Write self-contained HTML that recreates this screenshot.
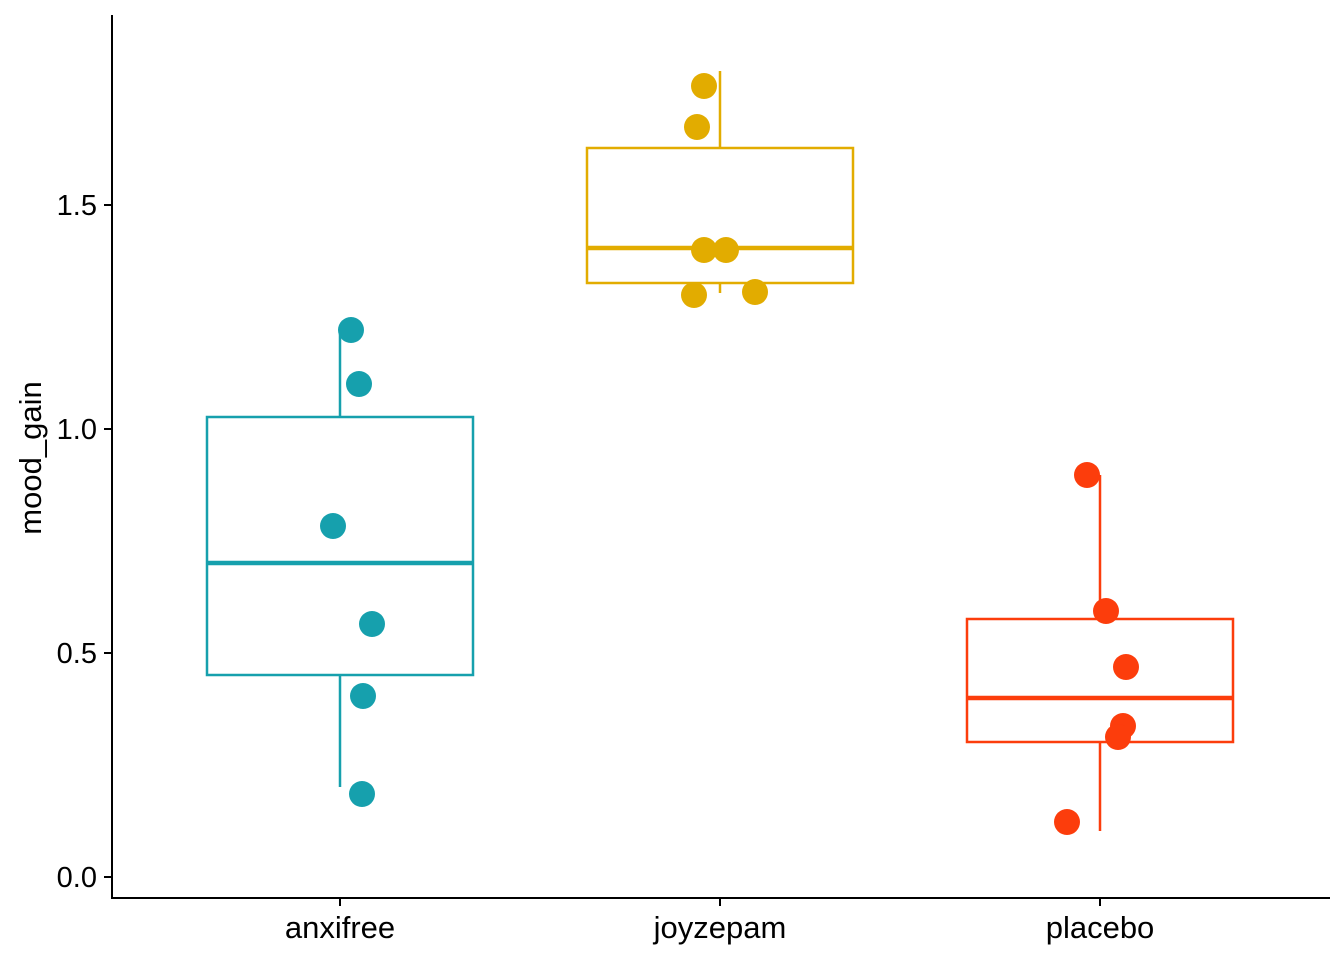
<!DOCTYPE html>
<html><head><meta charset="utf-8"><style>html,body{margin:0;padding:0;background:#fff}</style></head><body>
<svg width="1344" height="960" xmlns="http://www.w3.org/2000/svg" font-family="Liberation Sans, Arial, sans-serif">
<rect width="1344" height="960" fill="#fff"/>
<line x1="112" y1="15" x2="112" y2="899" stroke="#000" stroke-width="2"/>
<line x1="111" y1="898" x2="1330" y2="898" stroke="#000" stroke-width="2"/>
<g stroke="#000" stroke-width="2">
<line x1="104" y1="877" x2="112" y2="877"/><line x1="104" y1="653" x2="112" y2="653"/>
<line x1="104" y1="429" x2="112" y2="429"/><line x1="104" y1="205" x2="112" y2="205"/>
<line x1="340" y1="898" x2="340" y2="906"/><line x1="720" y1="898" x2="720" y2="906"/><line x1="1100" y1="898" x2="1100" y2="906"/>
</g>
<g font-size="29" fill="#000" text-anchor="end">
<text x="97" y="887">0.0</text><text x="97" y="663">0.5</text><text x="97" y="439">1.0</text><text x="97" y="215">1.5</text>
</g>
<g font-size="31" fill="#000" text-anchor="middle">
<text x="340" y="938">anxifree</text><text x="720" y="938">joyzepam</text><text x="1100" y="938">placebo</text>
</g>
<text transform="translate(41,458) rotate(-90)" font-size="31" text-anchor="middle">mood_gain</text>
<g stroke="#16A0AD" stroke-width="2.5" fill="none">
<line x1="340" y1="330" x2="340" y2="417"/><line x1="340" y1="675" x2="340" y2="787"/>
<rect x="207" y="417" width="266" height="258"/>
<line x1="207" y1="563" x2="473" y2="563" stroke-width="4.5"/>
</g>
<g fill="#16A0AD">
<circle cx="351" cy="330" r="13"/><circle cx="359" cy="384" r="13"/><circle cx="333" cy="526" r="13"/>
<circle cx="372" cy="624" r="13"/><circle cx="363" cy="696" r="13"/><circle cx="362" cy="794" r="13"/>
</g>
<g stroke="#E2AC00" stroke-width="2.5" fill="none">
<line x1="720" y1="71" x2="720" y2="148"/><line x1="720" y1="283" x2="720" y2="293"/>
<rect x="587" y="148" width="266" height="135"/>
<line x1="587" y1="248" x2="853" y2="248" stroke-width="4.5"/>
</g>
<g fill="#E2AC00">
<circle cx="704" cy="86" r="13"/><circle cx="697" cy="127" r="13"/><circle cx="704" cy="250" r="13"/>
<circle cx="726" cy="250" r="13"/><circle cx="694" cy="295" r="13"/><circle cx="755" cy="292" r="13"/>
</g>
<g stroke="#FC3D0C" stroke-width="2.5" fill="none">
<line x1="1100" y1="475" x2="1100" y2="619"/><line x1="1100" y1="742" x2="1100" y2="831"/>
<rect x="967" y="619" width="266" height="123"/>
<line x1="967" y1="698" x2="1233" y2="698" stroke-width="4.5"/>
</g>
<g fill="#FC3D0C">
<circle cx="1087" cy="475" r="13"/><circle cx="1106" cy="611" r="13"/><circle cx="1126" cy="667" r="13"/>
<circle cx="1123" cy="726" r="13"/><circle cx="1118" cy="737" r="13"/><circle cx="1067" cy="822" r="13"/>
</g>
</svg>
</body></html>
